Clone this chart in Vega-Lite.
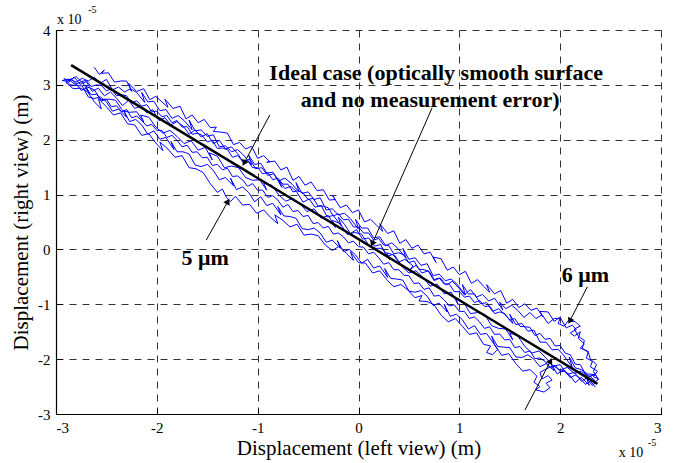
{
  "$schema": "https://vega.github.io/schema/vega-lite/v6.json",
  "width": 605,
  "height": 384,
  "autosize": "none",
  "padding": {"left": 56, "top": 30, "right": 14, "bottom": 49},
  "background": "white",
  "config": {
    "font": "Liberation Serif",
    "view": {"stroke": null},
    "axis": {
      "labelFont": "Liberation Serif",
      "labelFontSize": 15,
      "labelColor": "black",
      "titleFont": "Liberation Serif",
      "titleFontSize": 21,
      "titleFontWeight": "normal",
      "titleColor": "black",
      "gridColor": "#333333",
      "gridDash": [7, 6],
      "gridOpacity": 1,
      "gridWidth": 1,
      "domainColor": "black",
      "domainWidth": 1.2,
      "ticks": true,
      "tickSize": -6,
      "tickColor": "black",
      "tickWidth": 1
    }
  },
  "datasets": {
    "blue": [
      {"s":1,"x":-2.62,"y":3.32},{"s":1,"x":-2.57,"y":3.19},{"s":1,"x":-2.52,"y":3.27},{"s":1,"x":-2.55,"y":3.21},{"s":1,"x":-2.48,"y":3.22},{"s":1,"x":-2.42,"y":3.05},{"s":1,"x":-2.36,"y":3.07},{"s":1,"x":-2.30,"y":3.07},{"s":1,"x":-2.25,"y":2.88},{"s":1,"x":-2.28,"y":3.03},{"s":1,"x":-2.20,"y":2.88},{"s":1,"x":-2.13,"y":2.93},{"s":1,"x":-2.07,"y":2.73},{"s":1,"x":-2.01,"y":2.79},{"s":1,"x":-1.95,"y":2.69},{"s":1,"x":-1.89,"y":2.59},{"s":1,"x":-1.92,"y":2.74},{"s":1,"x":-1.84,"y":2.57},{"s":1,"x":-1.77,"y":2.61},{"s":1,"x":-1.71,"y":2.38},{"s":1,"x":-1.65,"y":2.45},{"s":1,"x":-1.59,"y":2.31},{"s":1,"x":-1.53,"y":2.37},{"s":1,"x":-1.47,"y":2.22},{"s":1,"x":-1.41,"y":2.23},{"s":1,"x":-1.44,"y":2.15},{"s":1,"x":-1.37,"y":2.14},{"s":1,"x":-1.30,"y":2.12},{"s":1,"x":-1.24,"y":1.91},{"s":1,"x":-1.18,"y":1.95},{"s":1,"x":-1.12,"y":1.83},{"s":1,"x":-1.06,"y":1.88},{"s":1,"x":-1.00,"y":1.66},{"s":1,"x":-0.94,"y":1.71},{"s":1,"x":-0.88,"y":1.60},{"s":1,"x":-0.91,"y":1.59},{"s":1,"x":-0.83,"y":1.61},{"s":1,"x":-0.77,"y":1.45},{"s":1,"x":-0.71,"y":1.50},{"s":1,"x":-0.65,"y":1.26},{"s":1,"x":-0.59,"y":1.33},{"s":1,"x":-0.53,"y":1.17},{"s":1,"x":-0.47,"y":1.23},{"s":1,"x":-0.41,"y":1.07},{"s":1,"x":-0.35,"y":1.09},{"s":1,"x":-0.29,"y":0.90},{"s":1,"x":-0.23,"y":0.91},{"s":1,"x":-0.26,"y":0.99},{"s":1,"x":-0.18,"y":0.76},{"s":1,"x":-0.12,"y":0.81},{"s":1,"x":-0.06,"y":0.67},{"s":1,"x":0.00,"y":0.72},{"s":1,"x":0.06,"y":0.50},{"s":1,"x":0.12,"y":0.55},{"s":1,"x":0.18,"y":0.44},{"s":1,"x":0.24,"y":0.33},{"s":1,"x":0.21,"y":0.47},{"s":1,"x":0.29,"y":0.29},{"s":1,"x":0.35,"y":0.34},{"s":1,"x":0.41,"y":0.11},{"s":1,"x":0.47,"y":0.18},{"s":1,"x":0.53,"y":0.02},{"s":1,"x":0.59,"y":0.08},{"s":1,"x":0.65,"y":-0.08},{"s":1,"x":0.71,"y":-0.05},{"s":1,"x":0.77,"y":-0.24},{"s":1,"x":0.74,"y":-0.14},{"s":1,"x":0.82,"y":-0.17},{"s":1,"x":0.88,"y":-0.38},{"s":1,"x":0.94,"y":-0.32},{"s":1,"x":1.00,"y":-0.46},{"s":1,"x":1.06,"y":-0.40},{"s":1,"x":1.12,"y":-0.62},{"s":1,"x":1.18,"y":-0.55},{"s":1,"x":1.24,"y":-0.67},{"s":1,"x":1.30,"y":-0.78},{"s":1,"x":1.27,"y":-0.64},{"s":1,"x":1.35,"y":-0.81},{"s":1,"x":1.41,"y":-0.75},{"s":1,"x":1.47,"y":-0.98},{"s":1,"x":1.53,"y":-0.91},{"s":1,"x":1.59,"y":-1.06},{"s":1,"x":1.65,"y":-0.99},{"s":1,"x":1.71,"y":-1.11},{"s":1,"x":1.77,"y":-1.07},{"s":1,"x":1.83,"y":-1.23},{"s":1,"x":1.80,"y":-1.13},{"s":1,"x":1.88,"y":-1.14},{"s":1,"x":1.94,"y":-1.31},{"s":1,"x":2.00,"y":-1.24},{"s":1,"x":2.06,"y":-1.43},{"s":1,"x":2.12,"y":-1.38},{"s":1,"x":2.16,"y":-1.46},{"s":1,"x":2.10,"y":-1.52},{"s":1,"x":2.14,"y":-1.58},{"s":1,"x":2.20,"y":-1.50},{"s":1,"x":2.18,"y":-1.62},{"s":1,"x":2.24,"y":-1.72},{"s":1,"x":2.20,"y":-1.80},{"s":1,"x":2.28,"y":-1.86},{"s":1,"x":2.26,"y":-1.98},{"s":1,"x":2.32,"y":-2.04},{"s":1,"x":2.30,"y":-2.14},{"s":1,"x":2.37,"y":-2.22},{"s":1,"x":2.33,"y":-2.32},{"s":1,"x":2.38,"y":-2.36},
      {"s":2,"x":2.38,"y":-2.36},{"s":2,"x":2.32,"y":-2.48},{"s":2,"x":2.26,"y":-2.34},{"s":2,"x":2.29,"y":-2.48},{"s":2,"x":2.21,"y":-2.33},{"s":2,"x":2.15,"y":-2.43},{"s":2,"x":2.09,"y":-2.28},{"s":2,"x":2.03,"y":-2.20},{"s":2,"x":1.97,"y":-2.27},{"s":2,"x":1.91,"y":-2.08},{"s":2,"x":1.94,"y":-2.21},{"s":2,"x":1.86,"y":-2.08},{"s":2,"x":1.80,"y":-2.14},{"s":2,"x":1.74,"y":-2.00},{"s":2,"x":1.68,"y":-1.92},{"s":2,"x":1.62,"y":-1.97},{"s":2,"x":1.56,"y":-1.96},{"s":2,"x":1.50,"y":-1.79},{"s":2,"x":1.44,"y":-1.78},{"s":2,"x":1.38,"y":-1.77},{"s":2,"x":1.32,"y":-1.58},{"s":2,"x":1.35,"y":-1.74},{"s":2,"x":1.27,"y":-1.53},{"s":2,"x":1.21,"y":-1.55},{"s":2,"x":1.15,"y":-1.39},{"s":2,"x":1.09,"y":-1.45},{"s":2,"x":1.03,"y":-1.28},{"s":2,"x":0.97,"y":-1.18},{"s":2,"x":0.91,"y":-1.22},{"s":2,"x":0.85,"y":-1.00},{"s":2,"x":0.88,"y":-1.14},{"s":2,"x":0.80,"y":-0.98},{"s":2,"x":0.74,"y":-1.02},{"s":2,"x":0.68,"y":-0.85},{"s":2,"x":0.62,"y":-0.75},{"s":2,"x":0.56,"y":-0.78},{"s":2,"x":0.50,"y":-0.76},{"s":2,"x":0.44,"y":-0.56},{"s":2,"x":0.38,"y":-0.54},{"s":2,"x":0.32,"y":-0.53},{"s":2,"x":0.26,"y":-0.35},{"s":2,"x":0.29,"y":-0.51},{"s":2,"x":0.21,"y":-0.30},{"s":2,"x":0.15,"y":-0.34},{"s":2,"x":0.09,"y":-0.18},{"s":2,"x":0.03,"y":-0.25},{"s":2,"x":-0.03,"y":-0.10},{"s":2,"x":-0.09,"y":0.00},{"s":2,"x":-0.15,"y":-0.04},{"s":2,"x":-0.21,"y":0.16},{"s":2,"x":-0.18,"y":0.02},{"s":2,"x":-0.26,"y":0.17},{"s":2,"x":-0.32,"y":0.13},{"s":2,"x":-0.38,"y":0.30},{"s":2,"x":-0.44,"y":0.39},{"s":2,"x":-0.50,"y":0.36},{"s":2,"x":-0.56,"y":0.38},{"s":2,"x":-0.62,"y":0.57},{"s":2,"x":-0.68,"y":0.60},{"s":2,"x":-0.74,"y":0.61},{"s":2,"x":-0.80,"y":0.78},{"s":2,"x":-0.77,"y":0.63},{"s":2,"x":-0.85,"y":0.84},{"s":2,"x":-0.91,"y":0.80},{"s":2,"x":-0.97,"y":0.96},{"s":2,"x":-1.03,"y":0.87},{"s":2,"x":-1.09,"y":1.04},{"s":2,"x":-1.15,"y":1.14},{"s":2,"x":-1.21,"y":1.09},{"s":2,"x":-1.27,"y":1.30},{"s":2,"x":-1.24,"y":1.16},{"s":2,"x":-1.32,"y":1.31},{"s":2,"x":-1.38,"y":1.27},{"s":2,"x":-1.44,"y":1.44},{"s":2,"x":-1.50,"y":1.55},{"s":2,"x":-1.56,"y":1.51},{"s":2,"x":-1.62,"y":1.54},{"s":2,"x":-1.68,"y":1.74},{"s":2,"x":-1.74,"y":1.78},{"s":2,"x":-1.80,"y":1.78},{"s":2,"x":-1.86,"y":1.97},{"s":2,"x":-1.83,"y":1.82},{"s":2,"x":-1.91,"y":2.04},{"s":2,"x":-1.97,"y":2.01},{"s":2,"x":-2.03,"y":2.16},{"s":2,"x":-2.09,"y":2.10},{"s":2,"x":-2.15,"y":2.27},{"s":2,"x":-2.21,"y":2.37},{"s":2,"x":-2.27,"y":2.33},{"s":2,"x":-2.33,"y":2.54},{"s":2,"x":-2.30,"y":2.41},{"s":2,"x":-2.38,"y":2.56},{"s":2,"x":-2.44,"y":2.52},{"s":2,"x":-2.50,"y":2.69},{"s":2,"x":-2.56,"y":2.78},{"s":2,"x":-2.62,"y":2.75},{"s":2,"x":-2.68,"y":2.78},{"s":2,"x":-2.74,"y":2.98},{"s":2,"x":-2.80,"y":2.99},{"s":2,"x":-2.86,"y":3.00},{"s":2,"x":-2.92,"y":3.12},{"s":2,"x":-2.88,"y":3.06},{"s":2,"x":-2.94,"y":3.08},
      {"s":3,"x":-2.94,"y":3.08},{"s":3,"x":-2.88,"y":3.10},{"s":3,"x":-2.81,"y":3.01},{"s":3,"x":-2.74,"y":3.06},{"s":3,"x":-2.67,"y":2.84},{"s":3,"x":-2.70,"y":2.97},{"s":3,"x":-2.62,"y":2.91},{"s":3,"x":-2.55,"y":2.71},{"s":3,"x":-2.48,"y":2.74},{"s":3,"x":-2.41,"y":2.72},{"s":3,"x":-2.34,"y":2.53},{"s":3,"x":-2.27,"y":2.50},{"s":3,"x":-2.20,"y":2.51},{"s":3,"x":-2.13,"y":2.32},{"s":3,"x":-2.16,"y":2.45},{"s":3,"x":-2.08,"y":2.41},{"s":3,"x":-2.01,"y":2.23},{"s":3,"x":-1.94,"y":2.12},{"s":3,"x":-1.87,"y":2.17},{"s":3,"x":-1.80,"y":2.06},{"s":3,"x":-1.73,"y":1.93},{"s":3,"x":-1.66,"y":1.98},{"s":3,"x":-1.59,"y":1.81},{"s":3,"x":-1.52,"y":1.86},{"s":3,"x":-1.45,"y":1.63},{"s":3,"x":-1.48,"y":1.76},{"s":3,"x":-1.40,"y":1.70},{"s":3,"x":-1.33,"y":1.49},{"s":3,"x":-1.26,"y":1.52},{"s":3,"x":-1.19,"y":1.49},{"s":3,"x":-1.12,"y":1.31},{"s":3,"x":-1.05,"y":1.26},{"s":3,"x":-0.98,"y":1.27},{"s":3,"x":-0.91,"y":1.08},{"s":3,"x":-0.94,"y":1.21},{"s":3,"x":-0.86,"y":1.17},{"s":3,"x":-0.79,"y":0.99},{"s":3,"x":-0.72,"y":0.88},{"s":3,"x":-0.65,"y":0.93},{"s":3,"x":-0.58,"y":0.83},{"s":3,"x":-0.51,"y":0.69},{"s":3,"x":-0.44,"y":0.74},{"s":3,"x":-0.37,"y":0.57},{"s":3,"x":-0.30,"y":0.62},{"s":3,"x":-0.23,"y":0.40},{"s":3,"x":-0.26,"y":0.53},{"s":3,"x":-0.18,"y":0.47},{"s":3,"x":-0.11,"y":0.27},{"s":3,"x":-0.04,"y":0.31},{"s":3,"x":0.03,"y":0.28},{"s":3,"x":0.10,"y":0.08},{"s":3,"x":0.17,"y":0.02},{"s":3,"x":0.24,"y":0.02},{"s":3,"x":0.31,"y":-0.19},{"s":3,"x":0.28,"y":-0.06},{"s":3,"x":0.36,"y":-0.11},{"s":3,"x":0.43,"y":-0.31},{"s":3,"x":0.50,"y":-0.43},{"s":3,"x":0.57,"y":-0.39},{"s":3,"x":0.64,"y":-0.51},{"s":3,"x":0.71,"y":-0.67},{"s":3,"x":0.78,"y":-0.63},{"s":3,"x":0.85,"y":-0.81},{"s":3,"x":0.92,"y":-0.78},{"s":3,"x":0.99,"y":-1.01},{"s":3,"x":0.96,"y":-0.88},{"s":3,"x":1.04,"y":-0.96},{"s":3,"x":1.11,"y":-1.17},{"s":3,"x":1.18,"y":-1.15},{"s":3,"x":1.25,"y":-1.18},{"s":3,"x":1.32,"y":-1.39},{"s":3,"x":1.39,"y":-1.44},{"s":3,"x":1.46,"y":-1.45},{"s":3,"x":1.53,"y":-1.65},{"s":3,"x":1.50,"y":-1.52},{"s":3,"x":1.58,"y":-1.58},{"s":3,"x":1.65,"y":-1.77},{"s":3,"x":1.72,"y":-1.89},{"s":3,"x":1.79,"y":-1.85},{"s":3,"x":1.86,"y":-1.98},{"s":3,"x":1.93,"y":-2.13},{"s":3,"x":2.00,"y":-2.10},{"s":3,"x":2.07,"y":-2.28},{"s":3,"x":2.14,"y":-2.24},{"s":3,"x":2.21,"y":-2.40},{"s":3,"x":2.28,"y":-2.33},{"s":3,"x":2.34,"y":-2.28},
      {"s":4,"x":2.34,"y":-2.28},{"s":4,"x":2.27,"y":-2.27},{"s":4,"x":2.21,"y":-2.19},{"s":4,"x":2.15,"y":-2.16},{"s":4,"x":2.09,"y":-1.96},{"s":4,"x":2.12,"y":-2.15},{"s":4,"x":2.04,"y":-1.94},{"s":4,"x":1.98,"y":-1.82},{"s":4,"x":1.92,"y":-1.83},{"s":4,"x":1.86,"y":-1.69},{"s":4,"x":1.80,"y":-1.69},{"s":4,"x":1.74,"y":-1.47},{"s":4,"x":1.68,"y":-1.49},{"s":4,"x":1.62,"y":-1.35},{"s":4,"x":1.56,"y":-1.37},{"s":4,"x":1.50,"y":-1.18},{"s":4,"x":1.53,"y":-1.35},{"s":4,"x":1.45,"y":-1.18},{"s":4,"x":1.39,"y":-1.08},{"s":4,"x":1.33,"y":-1.13},{"s":4,"x":1.27,"y":-0.97},{"s":4,"x":1.21,"y":-0.99},{"s":4,"x":1.15,"y":-0.81},{"s":4,"x":1.09,"y":-0.81},{"s":4,"x":1.03,"y":-0.64},{"s":4,"x":1.06,"y":-0.83},{"s":4,"x":0.98,"y":-0.64},{"s":4,"x":0.92,"y":-0.54},{"s":4,"x":0.86,"y":-0.57},{"s":4,"x":0.80,"y":-0.45},{"s":4,"x":0.74,"y":-0.48},{"s":4,"x":0.68,"y":-0.26},{"s":4,"x":0.62,"y":-0.29},{"s":4,"x":0.56,"y":-0.15},{"s":4,"x":0.50,"y":-0.18},{"s":4,"x":0.44,"y":0.02},{"s":4,"x":0.47,"y":-0.15},{"s":4,"x":0.39,"y":0.02},{"s":4,"x":0.33,"y":0.12},{"s":4,"x":0.27,"y":0.07},{"s":4,"x":0.21,"y":0.23},{"s":4,"x":0.15,"y":0.21},{"s":4,"x":0.09,"y":0.39},{"s":4,"x":0.03,"y":0.39},{"s":4,"x":-0.03,"y":0.55},{"s":4,"x":0.00,"y":0.37},{"s":4,"x":-0.08,"y":0.56},{"s":4,"x":-0.14,"y":0.66},{"s":4,"x":-0.20,"y":0.63},{"s":4,"x":-0.26,"y":0.74},{"s":4,"x":-0.32,"y":0.72},{"s":4,"x":-0.38,"y":0.94},{"s":4,"x":-0.44,"y":0.91},{"s":4,"x":-0.50,"y":1.05},{"s":4,"x":-0.56,"y":1.02},{"s":4,"x":-0.62,"y":1.22},{"s":4,"x":-0.59,"y":1.05},{"s":4,"x":-0.67,"y":1.21},{"s":4,"x":-0.73,"y":1.30},{"s":4,"x":-0.79,"y":1.25},{"s":4,"x":-0.85,"y":1.41},{"s":4,"x":-0.91,"y":1.39},{"s":4,"x":-0.97,"y":1.57},{"s":4,"x":-1.03,"y":1.55},{"s":4,"x":-1.09,"y":1.72},{"s":4,"x":-1.06,"y":1.54},{"s":4,"x":-1.14,"y":1.72},{"s":4,"x":-1.20,"y":1.82},{"s":4,"x":-1.26,"y":1.78},{"s":4,"x":-1.32,"y":1.89},{"s":4,"x":-1.38,"y":1.87},{"s":4,"x":-1.44,"y":2.09},{"s":4,"x":-1.50,"y":2.06},{"s":4,"x":-1.56,"y":2.18},{"s":4,"x":-1.62,"y":2.16},{"s":4,"x":-1.68,"y":2.36},{"s":4,"x":-1.65,"y":2.18},{"s":4,"x":-1.73,"y":2.35},{"s":4,"x":-1.79,"y":2.44},{"s":4,"x":-1.85,"y":2.39},{"s":4,"x":-1.91,"y":2.55},{"s":4,"x":-1.97,"y":2.53},{"s":4,"x":-2.03,"y":2.70},{"s":4,"x":-2.09,"y":2.69},{"s":4,"x":-2.15,"y":2.86},{"s":4,"x":-2.12,"y":2.68},{"s":4,"x":-2.20,"y":2.86},{"s":4,"x":-2.26,"y":2.93},{"s":4,"x":-2.32,"y":2.87},{"s":4,"x":-2.38,"y":2.96},{"s":4,"x":-2.44,"y":2.91},{"s":4,"x":-2.50,"y":3.10},{"s":4,"x":-2.56,"y":3.03},{"s":4,"x":-2.62,"y":3.14},{"s":4,"x":-2.68,"y":3.07},{"s":4,"x":-2.74,"y":3.12},{"s":4,"x":-2.80,"y":3.05},{"s":4,"x":-2.86,"y":3.10},{"s":4,"x":-2.90,"y":3.04},
      {"s":5,"x":-2.90,"y":3.04},{"s":5,"x":-2.83,"y":2.93},{"s":5,"x":-2.76,"y":2.94},{"s":5,"x":-2.69,"y":2.88},{"s":5,"x":-2.62,"y":2.69},{"s":5,"x":-2.55,"y":2.56},{"s":5,"x":-2.58,"y":2.75},{"s":5,"x":-2.50,"y":2.60},{"s":5,"x":-2.43,"y":2.45},{"s":5,"x":-2.36,"y":2.49},{"s":5,"x":-2.29,"y":2.29},{"s":5,"x":-2.22,"y":2.27},{"s":5,"x":-2.15,"y":2.08},{"s":5,"x":-2.08,"y":2.11},{"s":5,"x":-2.01,"y":1.94},{"s":5,"x":-1.94,"y":1.80},{"s":5,"x":-1.97,"y":1.96},{"s":5,"x":-1.89,"y":1.83},{"s":5,"x":-1.82,"y":1.68},{"s":5,"x":-1.75,"y":1.71},{"s":5,"x":-1.68,"y":1.49},{"s":5,"x":-1.61,"y":1.47},{"s":5,"x":-1.54,"y":1.40},{"s":5,"x":-1.47,"y":1.20},{"s":5,"x":-1.40,"y":1.04},{"s":5,"x":-1.35,"y":1.10},{"s":5,"x":-1.31,"y":0.95},{"s":5,"x":-1.27,"y":0.87},{"s":5,"x":-1.22,"y":0.97},{"s":5,"x":-1.15,"y":0.81},{"s":5,"x":-1.08,"y":0.82},{"s":5,"x":-1.01,"y":0.66},{"s":5,"x":-0.94,"y":0.72},{"s":5,"x":-0.87,"y":0.58},{"s":5,"x":-0.80,"y":0.47},{"s":5,"x":-0.83,"y":0.63},{"s":5,"x":-0.75,"y":0.53},{"s":5,"x":-0.68,"y":0.41},{"s":5,"x":-0.61,"y":0.46},{"s":5,"x":-0.54,"y":0.26},{"s":5,"x":-0.47,"y":0.28},{"s":5,"x":-0.40,"y":0.25},{"s":5,"x":-0.33,"y":0.08},{"s":5,"x":-0.26,"y":-0.02},{"s":5,"x":-0.19,"y":0.06},{"s":5,"x":-0.12,"y":-0.07},{"s":5,"x":-0.05,"y":-0.20},{"s":5,"x":-0.08,"y":-0.04},{"s":5,"x":0.00,"y":-0.24},{"s":5,"x":0.07,"y":-0.25},{"s":5,"x":0.14,"y":-0.43},{"s":5,"x":0.21,"y":-0.39},{"s":5,"x":0.28,"y":-0.55},{"s":5,"x":0.35,"y":-0.68},{"s":5,"x":0.42,"y":-0.64},{"s":5,"x":0.49,"y":-0.74},{"s":5,"x":0.56,"y":-0.88},{"s":5,"x":0.63,"y":-0.84},{"s":5,"x":0.60,"y":-0.94},{"s":5,"x":0.68,"y":-0.95},{"s":5,"x":0.75,"y":-1.01},{"s":5,"x":0.82,"y":-1.20},{"s":5,"x":0.89,"y":-1.32},{"s":5,"x":0.96,"y":-1.26},{"s":5,"x":1.03,"y":-1.40},{"s":5,"x":1.10,"y":-1.55},{"s":5,"x":1.17,"y":-1.52},{"s":5,"x":1.24,"y":-1.73},{"s":5,"x":1.31,"y":-1.76},{"s":5,"x":1.27,"y":-1.88},{"s":5,"x":1.33,"y":-1.92},{"s":5,"x":1.38,"y":-1.82},{"s":5,"x":1.35,"y":-1.74},{"s":5,"x":1.42,"y":-1.93},{"s":5,"x":1.49,"y":-1.90},{"s":5,"x":1.56,"y":-2.08},{"s":5,"x":1.63,"y":-2.22},{"s":5,"x":1.70,"y":-2.19},{"s":5,"x":1.77,"y":-2.31},{"s":5,"x":1.74,"y":-2.42},{"s":5,"x":1.80,"y":-2.50},{"s":5,"x":1.76,"y":-2.56},{"s":5,"x":1.84,"y":-2.60},{"s":5,"x":1.90,"y":-2.52},{"s":5,"x":1.86,"y":-2.44},{"s":5,"x":1.92,"y":-2.38},{"s":5,"x":1.88,"y":-2.30},{"s":5,"x":1.82,"y":-2.36},{"s":5,"x":1.80,"y":-2.24},{"s":5,"x":1.86,"y":-2.18},{"s":5,"x":1.93,"y":-2.12},{"s":5,"x":2.00,"y":-2.20},{"s":5,"x":2.07,"y":-2.15},{"s":5,"x":2.14,"y":-2.26},{"s":5,"x":2.21,"y":-2.22},{"s":5,"x":2.28,"y":-2.32},{"s":5,"x":2.35,"y":-2.28},{"s":5,"x":2.38,"y":-2.38},
      {"s":6,"x":2.38,"y":-2.38},{"s":6,"x":2.33,"y":-2.22},{"s":6,"x":2.36,"y":-2.10},{"s":6,"x":2.30,"y":-2.00},{"s":6,"x":2.28,"y":-1.88},{"s":6,"x":2.22,"y":-1.80},{"s":6,"x":2.24,"y":-1.66},{"s":6,"x":2.18,"y":-1.58},{"s":6,"x":2.14,"y":-1.45},{"s":6,"x":2.20,"y":-1.40},{"s":6,"x":2.15,"y":-1.32},{"s":6,"x":2.08,"y":-1.30},{"s":6,"x":2.04,"y":-1.40},{"s":6,"x":1.98,"y":-1.35},{"s":6,"x":2.00,"y":-1.25},{"s":6,"x":1.94,"y":-1.26},{"s":6,"x":1.88,"y":-1.35},{"s":6,"x":1.82,"y":-1.19},{"s":6,"x":1.76,"y":-1.26},{"s":6,"x":1.70,"y":-1.15},{"s":6,"x":1.64,"y":-1.24},{"s":6,"x":1.58,"y":-1.11},{"s":6,"x":1.52,"y":-1.02},{"s":6,"x":1.46,"y":-1.08},{"s":6,"x":1.40,"y":-0.96},{"s":6,"x":1.43,"y":-1.10},{"s":6,"x":1.35,"y":-0.89},{"s":6,"x":1.29,"y":-0.94},{"s":6,"x":1.23,"y":-0.82},{"s":6,"x":1.17,"y":-0.87},{"s":6,"x":1.11,"y":-0.73},{"s":6,"x":1.05,"y":-0.83},{"s":6,"x":0.99,"y":-0.69},{"s":6,"x":0.93,"y":-0.58},{"s":6,"x":0.87,"y":-0.65},{"s":6,"x":0.81,"y":-0.52},{"s":6,"x":0.75,"y":-0.57},{"s":6,"x":0.69,"y":-0.39},{"s":6,"x":0.63,"y":-0.43},{"s":6,"x":0.57,"y":-0.29},{"s":6,"x":0.51,"y":-0.37},{"s":6,"x":0.54,"y":-0.30},{"s":6,"x":0.46,"y":-0.18},{"s":6,"x":0.40,"y":-0.23},{"s":6,"x":0.34,"y":-0.09},{"s":6,"x":0.28,"y":-0.13},{"s":6,"x":0.22,"y":0.09},{"s":6,"x":0.16,"y":0.06},{"s":6,"x":0.10,"y":0.21},{"s":6,"x":0.04,"y":0.19},{"s":6,"x":-0.02,"y":0.36},{"s":6,"x":-0.08,"y":0.29},{"s":6,"x":-0.14,"y":0.46},{"s":6,"x":-0.20,"y":0.59},{"s":6,"x":-0.17,"y":0.43},{"s":6,"x":-0.25,"y":0.62},{"s":6,"x":-0.31,"y":0.59},{"s":6,"x":-0.37,"y":0.80},{"s":6,"x":-0.43,"y":0.77},{"s":6,"x":-0.49,"y":0.92},{"s":6,"x":-0.55,"y":0.86},{"s":6,"x":-0.61,"y":1.04},{"s":6,"x":-0.67,"y":1.15},{"s":6,"x":-0.73,"y":1.11},{"s":6,"x":-0.79,"y":1.26},{"s":6,"x":-0.76,"y":1.13},{"s":6,"x":-0.84,"y":1.38},{"s":6,"x":-0.90,"y":1.35},{"s":6,"x":-0.96,"y":1.49},{"s":6,"x":-1.02,"y":1.47},{"s":6,"x":-1.08,"y":1.65},{"s":6,"x":-1.14,"y":1.58},{"s":6,"x":-1.20,"y":1.75},{"s":6,"x":-1.26,"y":1.87},{"s":6,"x":-1.32,"y":1.83},{"s":6,"x":-1.38,"y":1.99},{"s":6,"x":-1.44,"y":1.93},{"s":6,"x":-1.50,"y":2.11},{"s":6,"x":-1.56,"y":2.05},{"s":6,"x":-1.62,"y":2.18},{"s":6,"x":-1.68,"y":2.10},{"s":6,"x":-1.74,"y":2.25},{"s":6,"x":-1.80,"y":2.33},{"s":6,"x":-1.86,"y":2.27},{"s":6,"x":-1.92,"y":2.40},{"s":6,"x":-1.98,"y":2.35},{"s":6,"x":-2.04,"y":2.55},{"s":6,"x":-2.10,"y":2.49},{"s":6,"x":-2.16,"y":2.61},{"s":6,"x":-2.22,"y":2.57},{"s":6,"x":-2.28,"y":2.72},{"s":6,"x":-2.34,"y":2.62},{"s":6,"x":-2.40,"y":2.76},{"s":6,"x":-2.46,"y":2.87},{"s":6,"x":-2.52,"y":2.80},{"s":6,"x":-2.58,"y":2.94},{"s":6,"x":-2.64,"y":2.88},{"s":6,"x":-2.70,"y":3.06},{"s":6,"x":-2.76,"y":3.01},{"s":6,"x":-2.82,"y":3.14},{"s":6,"x":-2.88,"y":3.04},
      {"s":7,"x":-2.90,"y":3.10},{"s":7,"x":-2.85,"y":3.10},{"s":7,"x":-2.80,"y":3.15},{"s":7,"x":-2.75,"y":3.06},{"s":7,"x":-2.70,"y":3.08},{"s":7,"x":-2.65,"y":2.97},{"s":7,"x":-2.60,"y":3.00},{"s":7,"x":-2.55,"y":2.99},{"s":7,"x":-2.50,"y":2.89},{"s":7,"x":-2.45,"y":2.93},{"s":7,"x":-2.40,"y":2.80},{"s":7,"x":-2.35,"y":2.82},{"s":7,"x":-2.30,"y":2.80},{"s":7,"x":-2.25,"y":2.67},{"s":7,"x":-2.20,"y":2.71},{"s":7,"x":-2.15,"y":2.61},{"s":7,"x":-2.10,"y":2.64},{"s":7,"x":-2.05,"y":2.51},{"s":7,"x":-2.00,"y":2.52},{"s":7,"x":-1.95,"y":2.42},{"s":7,"x":-1.90,"y":2.44},{"s":7,"x":-1.85,"y":2.31},{"s":7,"x":-1.80,"y":2.35},{"s":7,"x":-1.75,"y":2.23},{"s":7,"x":-1.70,"y":2.24},{"s":7,"x":-1.65,"y":2.10},{"s":7,"x":-1.60,"y":2.12},{"s":7,"x":-1.55,"y":2.08},{"s":7,"x":-1.50,"y":1.96},{"s":7,"x":-1.45,"y":1.99},{"s":7,"x":-1.40,"y":1.84},{"s":7,"x":-1.35,"y":1.85},{"s":7,"x":-1.30,"y":1.82},{"s":7,"x":-1.25,"y":1.68},{"s":7,"x":-1.20,"y":1.71},{"s":7,"x":-1.15,"y":1.61},{"s":7,"x":-1.10,"y":1.62},{"s":7,"x":-1.05,"y":1.49},{"s":7,"x":-1.00,"y":1.49},{"s":7,"x":-0.95,"y":1.38},{"s":7,"x":-0.90,"y":1.40},{"s":7,"x":-0.85,"y":1.27},{"s":7,"x":-0.80,"y":1.30},{"s":7,"x":-0.75,"y":1.19},{"s":7,"x":-0.70,"y":1.19},{"s":7,"x":-0.65,"y":1.05},{"s":7,"x":-0.60,"y":1.07},{"s":7,"x":-0.55,"y":1.03},{"s":7,"x":-0.50,"y":0.91},{"s":7,"x":-0.45,"y":0.93},{"s":7,"x":-0.40,"y":0.79},{"s":7,"x":-0.35,"y":0.79},{"s":7,"x":-0.30,"y":0.76},{"s":7,"x":-0.25,"y":0.61},{"s":7,"x":-0.20,"y":0.65},{"s":7,"x":-0.15,"y":0.54},{"s":7,"x":-0.10,"y":0.55},{"s":7,"x":-0.05,"y":0.41},{"s":7,"x":0.00,"y":0.41},{"s":7,"x":0.05,"y":0.30},{"s":7,"x":0.10,"y":0.30},{"s":7,"x":0.15,"y":0.17},{"s":7,"x":0.20,"y":0.20},{"s":7,"x":0.25,"y":0.08},{"s":7,"x":0.30,"y":0.07},{"s":7,"x":0.35,"y":-0.08},{"s":7,"x":0.40,"y":-0.06},{"s":7,"x":0.45,"y":-0.10},{"s":7,"x":0.50,"y":-0.24},{"s":7,"x":0.55,"y":-0.21},{"s":7,"x":0.60,"y":-0.36},{"s":7,"x":0.65,"y":-0.37},{"s":7,"x":0.70,"y":-0.40},{"s":7,"x":0.75,"y":-0.55},{"s":7,"x":0.80,"y":-0.52},{"s":7,"x":0.85,"y":-0.63},{"s":7,"x":0.90,"y":-0.63},{"s":7,"x":0.95,"y":-0.77},{"s":7,"x":1.00,"y":-0.77},{"s":7,"x":1.05,"y":-0.87},{"s":7,"x":1.10,"y":-0.85},{"s":7,"x":1.15,"y":-0.97},{"s":7,"x":1.20,"y":-0.93},{"s":7,"x":1.25,"y":-1.04},{"s":7,"x":1.30,"y":-1.03},{"s":7,"x":1.35,"y":-1.17},{"s":7,"x":1.40,"y":-1.14},{"s":7,"x":1.45,"y":-1.17},{"s":7,"x":1.50,"y":-1.29},{"s":7,"x":1.55,"y":-1.26},{"s":7,"x":1.60,"y":-1.40},{"s":7,"x":1.65,"y":-1.41},{"s":7,"x":1.70,"y":-1.42},{"s":7,"x":1.75,"y":-1.57},{"s":7,"x":1.80,"y":-1.53},{"s":7,"x":1.85,"y":-1.64},{"s":7,"x":1.90,"y":-1.62},{"s":7,"x":1.95,"y":-1.76},{"s":7,"x":2.00,"y":-1.75},{"s":7,"x":2.05,"y":-1.89},{"s":7,"x":2.10,"y":-1.92},{"s":7,"x":2.15,"y":-2.09},{"s":7,"x":2.20,"y":-2.10},{"s":7,"x":2.25,"y":-2.27},{"s":7,"x":2.30,"y":-2.32},{"s":7,"x":2.35,"y":-2.40},
      {"s":8,"x":2.35,"y":-2.51},{"s":8,"x":2.30,"y":-2.40},{"s":8,"x":2.25,"y":-2.46},{"s":8,"x":2.20,"y":-2.35},{"s":8,"x":2.15,"y":-2.29},{"s":8,"x":2.10,"y":-2.34},{"s":8,"x":2.05,"y":-2.22},{"s":8,"x":2.00,"y":-2.23},{"s":8,"x":1.95,"y":-2.11},{"s":8,"x":1.90,"y":-2.16},{"s":8,"x":1.85,"y":-2.04},{"s":8,"x":1.80,"y":-1.98},{"s":8,"x":1.75,"y":-1.99},{"s":8,"x":1.70,"y":-1.85},{"s":8,"x":1.65,"y":-1.88},{"s":8,"x":1.60,"y":-1.77},{"s":8,"x":1.55,"y":-1.79},{"s":8,"x":1.50,"y":-1.64},{"s":8,"x":1.45,"y":-1.65},{"s":8,"x":1.40,"y":-1.54},{"s":8,"x":1.35,"y":-1.55},{"s":8,"x":1.30,"y":-1.41},{"s":8,"x":1.25,"y":-1.44},{"s":8,"x":1.20,"y":-1.32},{"s":8,"x":1.15,"y":-1.23},{"s":8,"x":1.10,"y":-1.26},{"s":8,"x":1.05,"y":-1.13},{"s":8,"x":1.00,"y":-1.13},{"s":8,"x":0.95,"y":-1.01},{"s":8,"x":0.90,"y":-1.03},{"s":8,"x":0.85,"y":-0.92},{"s":8,"x":0.80,"y":-0.84},{"s":8,"x":0.75,"y":-0.85},{"s":8,"x":0.70,"y":-0.70},{"s":8,"x":0.65,"y":-0.73},{"s":8,"x":0.60,"y":-0.61},{"s":8,"x":0.55,"y":-0.62},{"s":8,"x":0.50,"y":-0.48},{"s":8,"x":0.45,"y":-0.47},{"s":8,"x":0.40,"y":-0.37},{"s":8,"x":0.35,"y":-0.37},{"s":8,"x":0.30,"y":-0.24},{"s":8,"x":0.25,"y":-0.27},{"s":8,"x":0.20,"y":-0.15},{"s":8,"x":0.15,"y":-0.05},{"s":8,"x":0.10,"y":-0.08},{"s":8,"x":0.05,"y":0.04},{"s":8,"x":0.00,"y":0.05},{"s":8,"x":-0.05,"y":0.15},{"s":8,"x":-0.10,"y":0.12},{"s":8,"x":-0.15,"y":0.23},{"s":8,"x":-0.20,"y":0.30},{"s":8,"x":-0.25,"y":0.28},{"s":8,"x":-0.30,"y":0.42},{"s":8,"x":-0.35,"y":0.39},{"s":8,"x":-0.40,"y":0.49},{"s":8,"x":-0.45,"y":0.47},{"s":8,"x":-0.50,"y":0.62},{"s":8,"x":-0.55,"y":0.60},{"s":8,"x":-0.60,"y":0.71},{"s":8,"x":-0.65,"y":0.69},{"s":8,"x":-0.70,"y":0.82},{"s":8,"x":-0.75,"y":0.77},{"s":8,"x":-0.80,"y":0.90},{"s":8,"x":-0.85,"y":0.98},{"s":8,"x":-0.90,"y":0.95},{"s":8,"x":-0.95,"y":1.08},{"s":8,"x":-1.00,"y":1.08},{"s":8,"x":-1.05,"y":1.20},{"s":8,"x":-1.10,"y":1.15},{"s":8,"x":-1.15,"y":1.27},{"s":8,"x":-1.20,"y":1.34},{"s":8,"x":-1.25,"y":1.33},{"s":8,"x":-1.30,"y":1.48},{"s":8,"x":-1.35,"y":1.45},{"s":8,"x":-1.40,"y":1.55},{"s":8,"x":-1.45,"y":1.53},{"s":8,"x":-1.50,"y":1.68},{"s":8,"x":-1.55,"y":1.67},{"s":8,"x":-1.60,"y":1.78},{"s":8,"x":-1.65,"y":1.77},{"s":8,"x":-1.70,"y":1.90},{"s":8,"x":-1.75,"y":1.87},{"s":8,"x":-1.80,"y":1.99},{"s":8,"x":-1.85,"y":2.08},{"s":8,"x":-1.90,"y":2.04},{"s":8,"x":-1.95,"y":2.17},{"s":8,"x":-2.00,"y":2.17},{"s":8,"x":-2.05,"y":2.28},{"s":8,"x":-2.10,"y":2.25},{"s":8,"x":-2.15,"y":2.35},{"s":8,"x":-2.20,"y":2.43},{"s":8,"x":-2.25,"y":2.40},{"s":8,"x":-2.30,"y":2.55},{"s":8,"x":-2.35,"y":2.51},{"s":8,"x":-2.40,"y":2.62},{"s":8,"x":-2.45,"y":2.60},{"s":8,"x":-2.50,"y":2.74},{"s":8,"x":-2.55,"y":2.73},{"s":8,"x":-2.60,"y":2.83},{"s":8,"x":-2.65,"y":2.82},{"s":8,"x":-2.70,"y":2.94},{"s":8,"x":-2.75,"y":2.90},{"s":8,"x":-2.80,"y":3.02},{"s":8,"x":-2.85,"y":3.11},{"s":8,"x":-2.90,"y":3.05}
    ],
    "ideal": [{"x": -2.85, "y": 3.36}, {"x": 2.37, "y": -2.45}],
    "arrows": [
      {"x": -0.88, "y": 2.45, "x2": -1.13, "y2": 1.59, "a": 208},
      {"x": 0.73, "y": 2.58, "x2": 0.14, "y2": 0.12, "a": 204},
      {"x": -1.51, "y": 0.17, "x2": -1.30, "y2": 0.86, "a": 29},
      {"x": 2.27, "y": -0.68, "x2": 2.10, "y2": -1.29, "a": 207},
      {"x": 1.65, "y": -2.93, "x2": 1.90, "y2": -2.05, "a": 28}
    ],
    "labels": [
      {"t": "Ideal case (optically smooth surface", "x": 0.77, "y": 3.22},
      {"t": "and no measurement error)", "x": 0.71, "y": 2.72},
      {"t": "5 μm", "x": -1.52, "y": -0.16},
      {"t": "6 μm", "x": 2.25, "y": -0.47}
    ],
    "exp": [
      {"t": "x 10", "x": -2.99, "y": 4.18, "sup": "-5", "xs": -2.68, "ys": 4.36},
      {"t": "x 10", "x": 2.58, "y": -3.71, "sup": "-5", "xs": 2.87, "ys": -3.53}
    ]
  },
  "layer": [
    {
      "data": {"name": "blue"},
      "mark": {"type": "line", "color": "#0000ff", "strokeWidth": 1},
      "encoding": {
        "x": {"field": "x", "type": "quantitative", "scale": {"domain": [-3, 3], "nice": false},
              "axis": {"values": [-3, -2, -1, 0, 1, 2, 3], "labelExpr": "'' + datum.value", "title": "Displacement (left view) (m)", "labelPadding": 12, "titlePadding": 2}},
        "y": {"field": "y", "type": "quantitative", "scale": {"domain": [-3, 4], "nice": false},
              "axis": {"values": [-3, -2, -1, 0, 1, 2, 3, 4], "labelExpr": "'' + datum.value", "title": "Displacement (right view) (m)", "labelPadding": 12, "titlePadding": 6}},
        "detail": {"field": "s"},
        "order": {"value": null}
      }
    },
    {
      "data": {"name": "ideal"},
      "mark": {"type": "line", "color": "black", "strokeWidth": 2.5},
      "encoding": {"x": {"field": "x", "type": "quantitative"}, "y": {"field": "y", "type": "quantitative"}}
    },
    {
      "data": {"name": "arrows"},
      "mark": {"type": "rule", "color": "black", "strokeWidth": 1},
      "encoding": {"x": {"field": "x", "type": "quantitative"}, "y": {"field": "y", "type": "quantitative"},
                   "x2": {"field": "x2"}, "y2": {"field": "y2"}}
    },
    {
      "data": {"name": "arrows"},
      "mark": {"type": "point", "shape": "triangle", "filled": true, "color": "black", "size": 50, "opacity": 1},
      "encoding": {"x": {"field": "x2", "type": "quantitative"}, "y": {"field": "y2", "type": "quantitative"},
                   "angle": {"field": "a", "type": "quantitative", "scale": null}}
    },
    {
      "data": {"name": "labels"},
      "mark": {"type": "text", "font": "Liberation Serif", "fontWeight": "bold", "fontSize": 22, "color": "black"},
      "encoding": {"x": {"field": "x", "type": "quantitative"}, "y": {"field": "y", "type": "quantitative"}, "text": {"field": "t"}}
    },
    {
      "data": {"name": "exp"},
      "mark": {"type": "text", "font": "Liberation Serif", "fontSize": 14, "color": "black", "align": "left"},
      "encoding": {"x": {"field": "x", "type": "quantitative"}, "y": {"field": "y", "type": "quantitative"}, "text": {"field": "t"}}
    },
    {
      "data": {"name": "exp"},
      "mark": {"type": "text", "font": "Liberation Serif", "fontSize": 10, "color": "black", "align": "left"},
      "encoding": {"x": {"field": "xs", "type": "quantitative"}, "y": {"field": "ys", "type": "quantitative"}, "text": {"field": "sup"}}
    }
  ]
}
